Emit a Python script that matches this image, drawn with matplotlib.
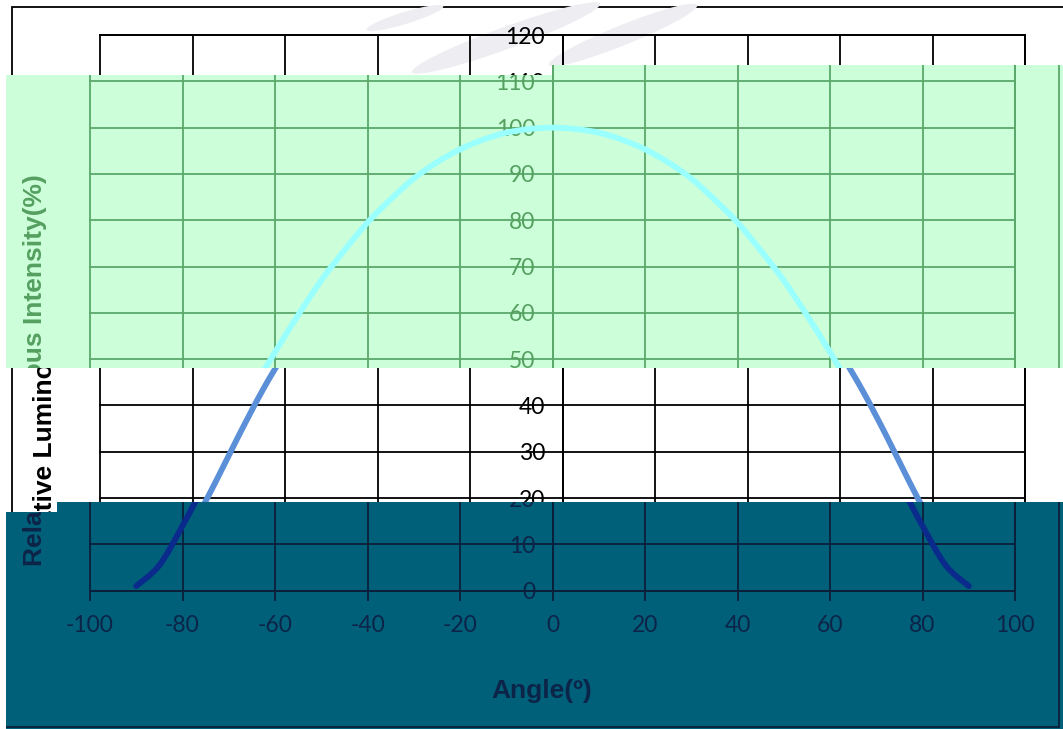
import matplotlib.pyplot as plt
from matplotlib.axes import Axes
from matplotlib.text import Text
from matplotlib.patches import Polygon, Rectangle, Ellipse, PathPatch
from matplotlib.path import Path
from matplotlib.transforms import Affine2D, Bbox

plt.rcParams['font.family'] = ['Lato', 'DejaVu Sans']
plt.rcParams['axes.unicode_minus'] = False

# Data
angle = [-90, -85, -80, -75, -70, -65, -60, -55, -50, -45, -40, -35, -30, -25, -20, -15, -10, -5,
         0, 5, 10, 15, 20, 25, 30, 35, 40, 45, 50, 55, 60, 65, 70, 75, 80, 85, 90]
intensity = [1, 5.5, 14, 23.5, 33.5, 43, 51.5, 59.5, 67, 73.5, 79.5, 84.5, 89, 92.5, 95.3, 97.4, 98.9, 99.7,
             100, 99.7, 98.9, 97.4, 95.3, 92.5, 89, 84.5, 79.5, 73.5, 67, 59.5, 51.5, 43, 33.5, 23.5, 14, 5.5, 1]
x_ticks = list(range(-100, 101, 20))
y_ticks = list(range(0, 121, 10))
x_title = 'Angle(º)'
y_title = 'Relative Luminous Intensity(%)'

W, H = 1063, 729
fig = plt.figure(figsize=(W / 100, H / 100), dpi=100)
# pixel coords, y pointing down
PX = Affine2D().scale(1 / W, -1 / H).translate(0, 1) + fig.transFigure

GREEN_BAND = [(6, 75), (552, 75), (552, 65), (1063, 65), (1063, 368), (6, 368)]
TEAL_BAND = [(6, 512), (57, 512), (57, 502), (1063, 502), (1063, 729), (6, 729)]


def px_box(x0, y0, x1, y1):
    return Bbox.from_extents(x0, H - y1, x1, H - y0)


def smooth_path(xs, ys):
    # excel style smoothed line: cubic bezier through the points
    pts = list(zip(xs, ys))
    verts = [pts[0]]
    codes = [Path.MOVETO]
    for i in range(len(pts) - 1):
        p0 = pts[max(i - 1, 0)]
        p1 = pts[i]
        p2 = pts[i + 1]
        p3 = pts[min(i + 2, len(pts) - 1)]
        c1 = (p1[0] + (p2[0] - p0[0]) / 6, p1[1] + (p2[1] - p0[1]) / 6)
        c2 = (p2[0] - (p3[0] - p1[0]) / 6, p2[1] - (p3[1] - p1[1]) / 6)
        verts += [c1, c2, p2]
        codes += [Path.CURVE4] * 3
    return Path(verts, codes)


def draw_layer(dx, bg, fg, txt, curve, region, z, text_boxes=None):
    arts = []
    clip = None
    if region is not None:
        clip = Polygon(region, closed=True, transform=PX, facecolor=bg, edgecolor='none', zorder=z)
        fig.add_artist(clip)
        arts.append(clip)
    frame = Rectangle((12 + dx, 7), 1057, 720, transform=PX, zorder=z + 0.1,
                      facecolor=bg if region is None else 'none', edgecolor=fg, lw=1.3)
    fig.add_artist(frame)
    arts.append(frame)
    if region is None:
        # faint watermark swooshes
        for cx, cy, w, h, a in [(405, 18, 80, 12, -17), (506, 38, 200, 22, -20), (623, 35, 160, 20, -22)]:
            fig.add_artist(Ellipse((cx, cy), w, h, angle=a, transform=PX, facecolor='#eeeef2',
                                   edgecolor='none', zorder=z + 0.2))

    ax = fig.add_axes([(100 + dx) / W, (H - 590.7) / H, 925 / W, 555.7 / H])
    ax.set_zorder(z + 0.5)
    ax.patch.set_visible(False)
    ax.plot(angle, intensity, color=curve, lw=0)
    ax.add_patch(PathPatch(smooth_path(angle, intensity), fill=False, edgecolor=curve, lw=4.2,
                           capstyle='round', joinstyle='round', zorder=3))
    ax.set_xlim(-100, 100)
    ax.set_ylim(0, 120)
    ax.set_xticks(x_ticks)
    ax.set_yticks(y_ticks)
    ax.grid(True, color=fg, lw=1.3)
    for s in ax.spines.values():
        s.set_color(fg)
        s.set_linewidth(1.3)
    ax.spines['left'].set_position(('data', 0))
    ax.tick_params(axis='x', length=7.2, width=1.3, color=fg, pad=10.5, labelsize=16.5, labelcolor=txt)
    ax.tick_params(axis='y', length=0, pad=12.5, labelsize=16.5, labelcolor=txt)

    t1 = fig.text((45 + dx) / W, 1 - 370 / H, y_title, rotation=90, ha='center', va='center',
                  fontsize=19, fontweight='bold', family=['Liberation Sans', 'DejaVu Sans'],
                  color=txt, zorder=z + 0.8)
    t2 = fig.text((552 + dx) / W, 1 - 691 / H, x_title, ha='center', va='center',
                  fontsize=19, fontweight='bold', family=['Liberation Sans', 'DejaVu Sans'],
                  color=txt, zorder=z + 0.8)
    arts += [ax, t1, t2]
    return clip, arts, t1, text_boxes


layers = [
    draw_layer(0, 'white', 'black', 'black', '#5b8fd8', None, 0),
    draw_layer(-10, '#ccffd9', '#5aa86a', '#55a060', '#99ffff', GREEN_BAND, 10,
               (px_box(6, 75, 1063, 368), px_box(6, 75, 1063, 368))),
    draw_layer(-10, '#00607a', '#0a1f3a', '#0c2448', '#0a2a8c', TEAL_BAND, 20,
               (px_box(6, 502, 1063, 729), px_box(6, 512, 1063, 729))),
]

fig.canvas.draw()
for clip, arts, ytitle, boxes in layers:
    for a in arts:
        for o in a.findobj():
            if isinstance(o, Axes):
                continue
            o.set_clip_box(None)
            o.set_clip_path(clip)
            if clip is None:
                continue
            o.set_clip_on(True)
            if isinstance(o, Text):
                # agg clips text by rectangle only
                o.set_clip_path(None)
                o.set_clip_box(boxes[1] if o is ytitle else boxes[0])

fig.savefig('out.png', dpi=100)
